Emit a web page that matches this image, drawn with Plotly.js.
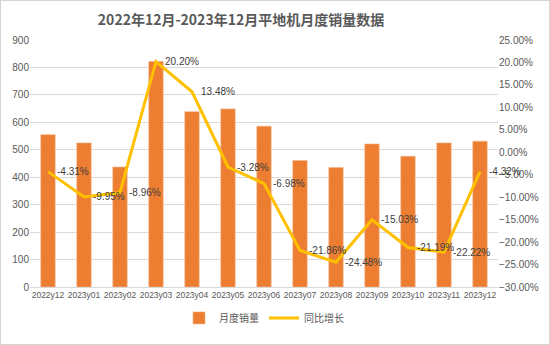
<!DOCTYPE html>
<html>
<head>
<meta charset="utf-8">
<script src="https://cdn.plot.ly/plotly-3.0.1.min.js"></script>
<style>
html,body{margin:0;padding:0;background:#fff;}
#wrap{width:550px;height:345px;box-sizing:border-box;border:1px solid #d4d4d4;}
#chart{width:548px;height:343px;}
</style>
</head>
<body>
<div id="wrap"><div id="chart"></div></div>
<script>
const months = ['2022y12','2023y01','2023y02','2023y03','2023y04','2023y05','2023y06','2023y07','2023y08','2023y09','2023y10','2023y11','2023y12'];
const sales = [555, 525, 437, 822, 639, 649, 586, 461, 435, 521, 476, 525, 531];
const growth = [-4.31, -9.95, -8.96, 20.20, 13.48, -3.28, -6.98, -21.86, -24.48, -15.03, -21.19, -22.22, -4.32];
const growthLabels = growth.map(v => v.toFixed(2) + '%');

const fontFam = '"Noto Sans CJK SC", "Liberation Sans", sans-serif';
const latinFam = '"Liberation Sans", "Noto Sans CJK SC", sans-serif';

const traces = [
  {
    type: 'bar', x: months, y: sales, name: '月度销量',
    marker: {color: '#ED7D31', line: {color: '#F4B183', width: 0.6}},
    width: 0.4, yaxis: 'y'
  },
  {
    type: 'scatter', mode: 'lines', x: months, y: growth, name: '同比增长',
    yaxis: 'y2', line: {color: '#FFC000', width: 3}
  }
];

const annotations = months.map((m, i) => ({
  x: m, y: growth[i], xref: 'x', yref: 'y2',
  text: growthLabels[i], showarrow: false,
  xanchor: 'left', yanchor: 'middle', xshift: 7,
  font: {size: 10, color: '#404040', family: latinFam}
}));

const layout = {
  width: 548, height: 343,
  margin: {l: 29, r: 51, t: 39, b: 50},
  paper_bgcolor: '#fff', plot_bgcolor: '#fff',
  font: {family: fontFam, size: 10, color: '#595959'},
  title: {text: '2022年12月-2023年12月平地机月度销量数据', font: {size: 14, color: '#595959', family: fontFam, weight: 'bold'}, x: 0.438, xanchor: 'center', y: 0.945, yanchor: 'middle'},
  showlegend: true,
  legend: {orientation: 'h', x: 0.5, xanchor: 'center', y: -0.125, yanchor: 'middle', font: {size: 10, color: '#595959'}, traceorder: 'normal'},
  xaxis: {type: 'category', range: [-0.5, months.length - 0.5], autorange: false, tickangle: 0, tickfont: {size: 8.5, color: '#595959', family: latinFam}, showgrid: false, showline: true, linecolor: '#d9d9d9', ticks: '', zeroline: false},
  yaxis: {range: [0, 900], dtick: 100, showgrid: true, gridcolor: '#d9d9d9', zeroline: false, tickfont: {size: 10, color: '#595959', family: latinFam}, ticks: '', showline: false},
  yaxis2: {range: [-30, 25], dtick: 5, overlaying: 'y', side: 'right', showgrid: false, zeroline: false, tickformat: '.2f', ticksuffix: '%', tickfont: {size: 10, color: '#595959', family: latinFam}, ticks: ''},
  annotations: annotations,
  bargap: 0.6
};

Plotly.newPlot('chart', traces, layout, {displayModeBar: false, staticPlot: true});
</script>
</body>
</html>
